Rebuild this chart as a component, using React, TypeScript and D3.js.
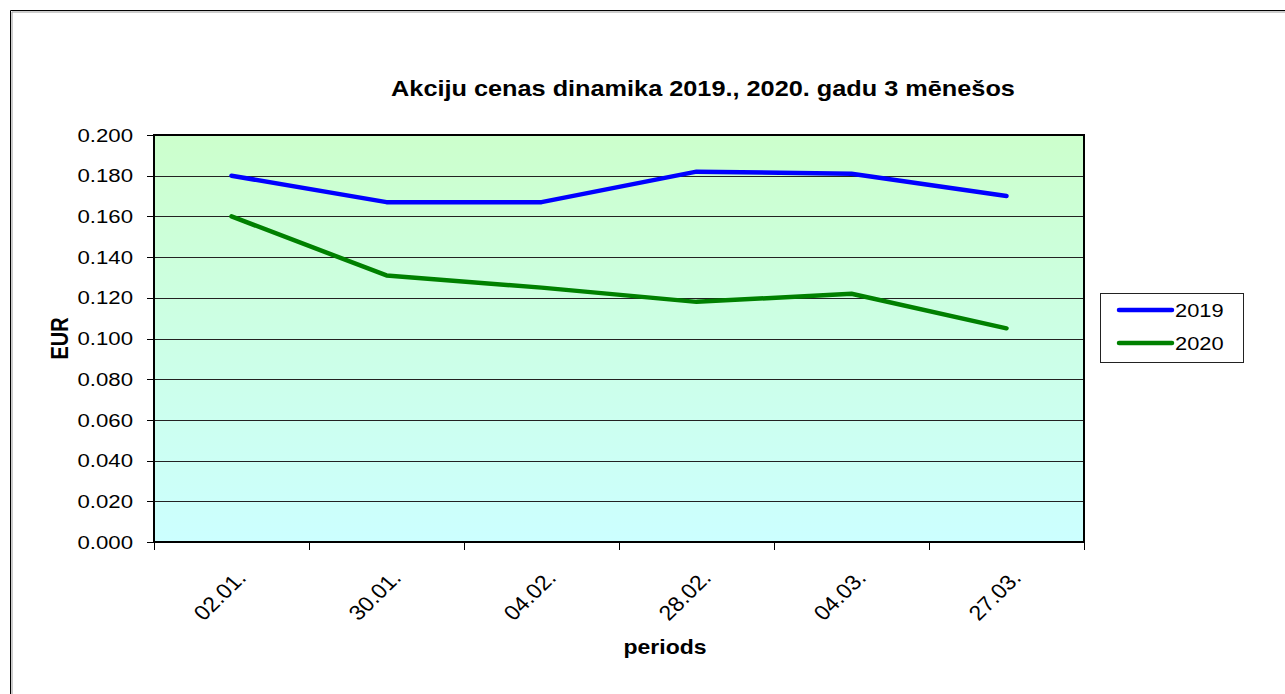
import React from "react";
import * as d3 from "d3";

const categories = ["02.01.", "30.01.", "04.02.", "28.02.", "04.03.", "27.03."];
const values2019 = [0.18, 0.167, 0.167, 0.182, 0.181, 0.17];
const values2020 = [0.16, 0.131, 0.125, 0.118, 0.122, 0.105];
const yTicks = [0, 0.02, 0.04, 0.06, 0.08, 0.1, 0.12, 0.14, 0.16, 0.18, 0.2];
const seriesNames = ["2019", "2020"];
const seriesColors = ["#0000FF", "#008000"];
const title = "Akciju  cenas dinamika 2019., 2020. gadu 3 mēnešos";
const xTitle = "periods";
const yTitle = "EUR";

const SX = 1.2;
const FONT = "Liberation Sans, Arial, sans-serif";

export default function App() {
  const W = 1285;
  const H = 694;
  const left = 154, right = 1084, top = 135, bottom = 542;
  const x = d3.scaleBand<string>().domain(categories).range([left, right]).padding(0);
  const y = d3.scaleLinear().domain([0, 0.2]).range([bottom, top]);
  const cx = (c: string) => (x(c) as number) + x.bandwidth() / 2;
  const line = d3
    .line<number>()
    .x((_, i) => cx(categories[i]))
    .y((d) => y(d));
  const series = [values2019, values2020];
  const boundaries = [...categories.map((c) => x(c) as number), right];

  const legendX = 1100, legendY = 293, legendW = 143, legendH = 69;

  return (
    <svg
      width={W}
      height={H}
      style={{ position: "absolute", left: 0, top: 0, background: "#fff" }}
      fontFamily={FONT}
    >
      <defs>
        <linearGradient id="bg" x1="0" y1="0" x2="0" y2="1">
          <stop offset="0%" stopColor="#CCFFCC" />
          <stop offset="100%" stopColor="#CCFFFF" />
        </linearGradient>
      </defs>
      <rect x={0} y={0} width={W} height={H} fill="#fff" />
      {/* outer frame */}
      <line x1={10.5} y1={10.5} x2={W} y2={10.5} stroke="#000" strokeWidth={1} />
      <line x1={10.5} y1={10.5} x2={10.5} y2={H} stroke="#000" strokeWidth={1} />
      <line x1={12} y1={12} x2={W} y2={12} stroke="#999" strokeWidth={1} />
      <line x1={12} y1={12} x2={12} y2={H} stroke="#999" strokeWidth={1} />

      {/* title */}
      <text
        transform={`translate(703,96) scale(1.15,1)`}
        textAnchor="middle"
        fontSize={22}
        fontWeight="bold"
        fill="#000"
      >
        {title}
      </text>

      {/* plot background */}
      <rect x={left} y={top} width={right - left} height={bottom - top} fill="url(#bg)" />

      {/* gridlines */}
      {yTicks.map((t) => (
        <line key={"g" + t} x1={left} x2={right} y1={Math.round(y(t)) + 0.5} y2={Math.round(y(t)) + 0.5} stroke="#222" strokeWidth={1} />
      ))}
      {/* y ticks + labels */}
      {yTicks.map((t) => (
        <g key={"t" + t}>
          <line x1={left - 7} x2={left} y1={Math.round(y(t)) + 0.5} y2={Math.round(y(t)) + 0.5} stroke="#000" strokeWidth={1} />
          <text
            transform={`translate(133,${y(t)}) scale(${SX},1)`}
            textAnchor="end"
            dy="0.36em"
            fontSize={18.5}
            fill="#000"
          >
            {d3.format(".3f")(t)}
          </text>
        </g>
      ))}
      {/* x ticks */}
      {boundaries.map((b, i) => (
        <line key={"xt" + i} x1={Math.round(b) + 0.5} x2={Math.round(b) + 0.5} y1={bottom} y2={bottom + 8} stroke="#000" strokeWidth={1} />
      ))}
      {/* x labels */}
      {categories.map((c) => (
        <text
          key={"xl" + c}
          transform={`translate(${cx(c) + 10},${bottom + 32}) scale(1.1,1) rotate(-47)`}
          textAnchor="end"
          dy="0.35em"
          fontSize={21}
          fill="#000"
        >
          {c}
        </text>
      ))}

      {/* plot border */}
      <rect x={left} y={top} width={right - left} height={bottom - top} fill="none" stroke="#000" strokeWidth={2} />

      {/* series */}
      {series.map((s, i) => (
        <path key={"s" + i} d={line(s) as string} fill="none" stroke={seriesColors[i]} strokeWidth={4.5} strokeLinejoin="round" strokeLinecap="round" />
      ))}

      {/* axis titles */}
      <text
        transform={`translate(665,654) scale(1.15,1)`}
        textAnchor="middle"
        fontSize={20}
        fontWeight="bold"
        fill="#000"
      >
        {xTitle}
      </text>
      <text
        transform={`translate(68,${(top + bottom) / 2}) scale(${SX},1) rotate(-90)`}
        textAnchor="middle"
        fontSize={20}
        fontWeight="bold"
        fill="#000"
      >
        {yTitle}
      </text>

      {/* legend */}
      <rect x={legendX + 0.5} y={legendY + 0.5} width={legendW} height={legendH} fill="#fff" stroke="#222" strokeWidth={1} />
      {seriesNames.map((n, i) => {
        const ly = legendY + 17 + i * 33;
        return (
          <g key={"lg" + n}>
            <line x1={legendX + 19} x2={legendX + 72} y1={ly} y2={ly} stroke={seriesColors[i]} strokeWidth={4.5} strokeLinecap="round" />
            <text transform={`translate(${legendX + 75},${ly}) scale(1.15,1)`} dy="0.36em" fontSize={19} fill="#000">
              {n}
            </text>
          </g>
        );
      })}
    </svg>
  );
}
